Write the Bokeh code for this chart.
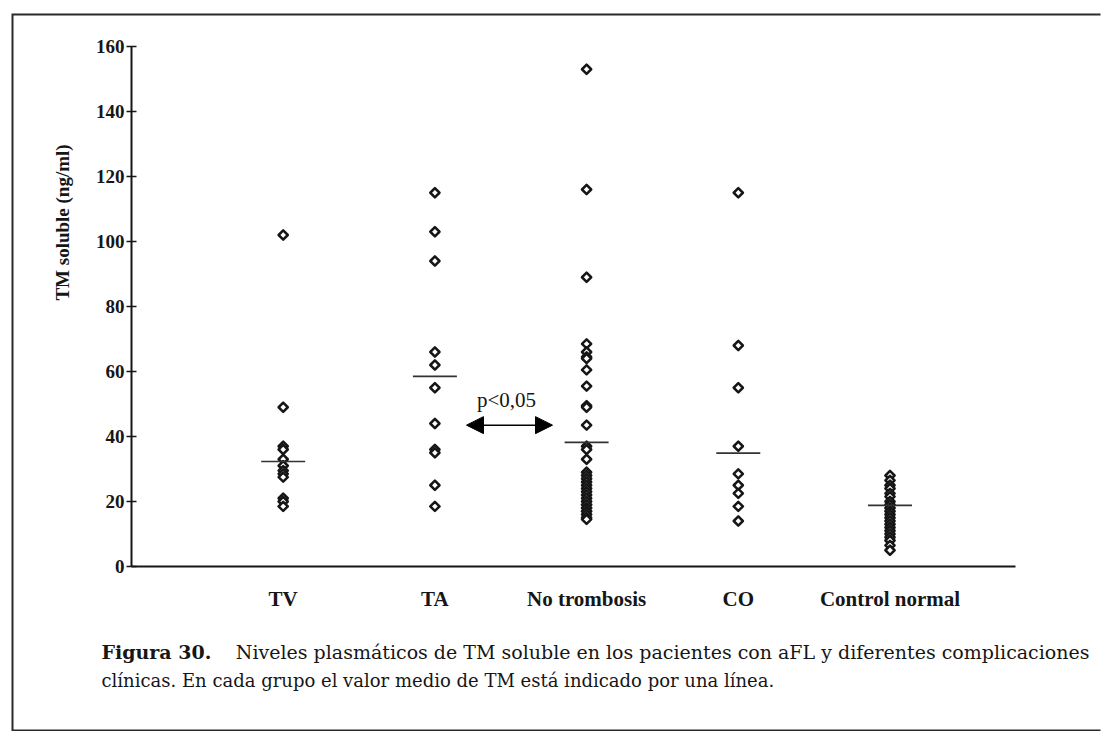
from bokeh.plotting import figure
from bokeh.models import (Range1d, FixedTicker, Label, Arrow, NormalHead,
                          ColumnDataSource, LinearAxis)
from bokeh.embed import file_html
from bokeh.resources import INLINE
import math

# Groups along the x axis
categories = ["TV", "TA", "No trombosis", "CO", "Control normal"]

# Soluble TM (ng/ml) per patient in each group
tv = [102, 49, 37, 36, 33, 31, 29.5, 28.5, 27.5, 21, 20, 18.5]
ta = [115, 103, 94, 66, 62, 55, 44, 36, 35, 25, 18.5]
no_trombosis = [153, 116, 89, 68.5, 66, 64.5, 64, 60.5, 55.5, 49.5, 49, 43.5,
                37, 36, 33, 29, 28, 27, 26, 25, 24, 23, 22, 21, 20, 19, 18,
                17, 16, 15, 14.5]
co = [115, 68, 55, 37, 28.5, 25, 22.5, 18.5, 14]
control_normal = [28, 26.5, 25, 24, 22.5, 21.5, 20, 19, 18, 17, 16, 15, 14,
                  13, 12, 11, 10, 9, 8, 6.5, 5]

# Group mean drawn as a short horizontal line
means = [32.3, 58.5, 38.2, 34.9, 18.8]

y_ticks = [0, 20, 40, 60, 80, 100, 120, 140, 160]

groups = [tv, ta, no_trombosis, co, control_normal]

INK = "#161616"
SERIF = "Liberation Serif"
CAP = "DejaVu Serif"

# Page geometry: the plotting frame fills the whole page; the chart axes are
# drawn at fixed positions inside it so the caption and page frame can be
# placed with the same data coordinates.
W, H = 1102, 731
X0_PX, Y0_PX = 131.0, 566.0      # where (0, 0) sits on the page
PX_PER_X, PX_PER_Y = 151.7, 3.25

def xd(px):
    return (px - X0_PX) / PX_PER_X

def yd(py):
    return (Y0_PX - py) / PX_PER_Y

X_END = 5.83

p = figure(width=W, height=H, output_backend="svg", toolbar_location=None,
           x_range=Range1d(xd(0), xd(W)), y_range=Range1d(yd(H), yd(0)),
           x_axis_location=None, y_axis_location=None, min_border=0)
p.outline_line_color = None
p.grid.visible = False
p.background_fill_color = "white"
p.border_fill_color = "white"

# page frame (open on the right, running off the page)
p.line(x=[xd(W - 2), xd(12), xd(12), xd(W - 2)],
       y=[yd(14), yd(14), yd(730), yd(730)],
       line_color="#2a2a2a", line_width=2, line_join="miter")

# x axis: one tick label per group
xaxis = LinearAxis(fixed_location=0, bounds=(0, X_END))
xaxis.ticker = FixedTicker(ticks=list(range(1, len(categories) + 1)))
xaxis.major_label_overrides = {i + 1: c for i, c in enumerate(categories)}
xaxis.major_tick_line_color = None
xaxis.minor_tick_line_color = None
xaxis.axis_line_width = 2
xaxis.axis_line_color = INK
xaxis.major_label_text_font = SERIF
xaxis.major_label_text_font_style = "bold"
xaxis.major_label_text_font_size = "21px"
xaxis.major_label_text_color = INK
xaxis.major_label_standoff = 14
p.add_layout(xaxis, "below")

# y axis
yaxis = LinearAxis(fixed_location=0, bounds=(0, 160))
yaxis.ticker = FixedTicker(ticks=y_ticks)
yaxis.minor_tick_line_color = None
yaxis.axis_line_width = 2
yaxis.axis_line_color = INK
yaxis.major_tick_line_color = INK
yaxis.major_tick_line_width = 1.5
yaxis.major_tick_in = 5
yaxis.major_tick_out = 5
yaxis.major_label_standoff = 2
yaxis.major_label_text_font = SERIF
yaxis.major_label_text_font_style = "bold"
yaxis.major_label_text_font_size = "19px"
yaxis.major_label_text_color = INK
p.add_layout(yaxis, "left")

# individual values
xs, ys = [], []
for i, vals in enumerate(groups):
    xs += [i + 1] * len(vals)
    ys += vals
pts = ColumnDataSource(dict(x=xs, y=ys))
p.scatter("x", "y", source=pts, marker="square", angle=math.pi / 4, size=6.5,
          line_width=2.5, line_join="round", line_color=INK, fill_color="white")

# group means
half = 0.145
mean_src = ColumnDataSource(dict(
    x0=[i + 1 - half for i in range(len(means))],
    x1=[i + 1 + half for i in range(len(means))],
    y=means))
p.segment(x0="x0", y0="y", x1="x1", y1="y", source=mean_src,
          line_color="#333333", line_width=1.6)

# significance between TA and No trombosis
head = dict(size=17, fill_color="black", line_color="black")
p.add_layout(Arrow(start=NormalHead(**head), end=NormalHead(**head),
                   x_start=xd(466), y_start=43.5, x_end=xd(552), y_end=43.5,
                   line_color="black", line_width=1.5))
p.add_layout(Label(x=xd(506), y=yd(399), text="p<0,05", text_align="center",
                   text_baseline="middle", text_font=SERIF,
                   text_font_size="21px", text_color=INK))

# y axis title
p.add_layout(Label(x=xd(62), y=yd(222), text="TM soluble (ng/ml)",
                   angle=math.pi / 2, text_align="center",
                   text_baseline="middle", text_font=SERIF,
                   text_font_style="bold", text_font_size="19px",
                   text_color=INK))

# caption below the chart (first line set flush on both sides)
p.add_layout(Label(x=xd(101), y=yd(651), text="Figura 30.", text_align="left",
                   text_baseline="middle", text_font=CAP, text_font_style="bold",
                   text_font_size="19px", text_color=INK))
p.add_layout(Label(x=xd(1089), y=yd(651),
                   text="Niveles plasmáticos de TM soluble en los pacientes con aFL y diferentes complicaciones",
                   text_align="right", text_baseline="middle", text_font=CAP,
                   text_font_size="19px", text_color=INK))
p.add_layout(Label(x=xd(101), y=yd(680),
                   text="clínicas. En cada grupo el valor medio de TM está indicado por una línea.",
                   text_align="left", text_baseline="middle", text_font=CAP,
                   text_font_size="18px", text_color=INK))

open("out.html", "w").write(file_html(p, INLINE))
